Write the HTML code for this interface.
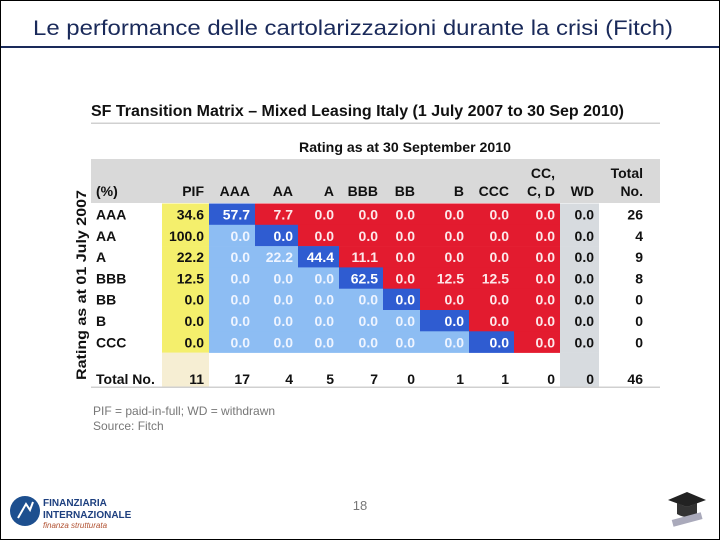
<!DOCTYPE html>
<html><head><meta charset="utf-8"><style>
html,body{margin:0;padding:0;background:#fff}
svg{display:block}
text{font-family:"Liberation Sans",Arial,sans-serif}
</style></head><body>
<svg id="s" width="720" height="540" viewBox="0 0 720 540" xmlns="http://www.w3.org/2000/svg">
<rect x="0.5" y="0.5" width="719" height="539" fill="#fff" stroke="#000"/>
<text x="33" y="35" font-size="21" fill="#1a2a5a" textLength="640" lengthAdjust="spacingAndGlyphs">Le performance delle cartolarizzazioni durante la crisi (Fitch)</text>
<rect x="1" y="46" width="718" height="2" fill="#1a2a5a"/>
<text x="91" y="116" font-size="16" font-weight="bold" fill="#111" textLength="533" lengthAdjust="spacingAndGlyphs">SF Transition Matrix – Mixed Leasing Italy (1 July 2007 to 30 Sep 2010)</text>
<rect x="91" y="122.5" width="569" height="1.5" fill="#d0d0d0"/>
<text x="405" y="152" font-size="14" font-weight="bold" fill="#111" text-anchor="middle" textLength="212" lengthAdjust="spacingAndGlyphs">Rating as at 30 September 2010</text>
<rect x="91" y="159" width="569" height="44" fill="#d9d9d9"/>
<text transform="translate(86,285) rotate(-90)" font-size="14" font-weight="bold" fill="#111" text-anchor="middle" textLength="190" lengthAdjust="spacingAndGlyphs">Rating as at 01 July 2007</text>
<text x="96" y="196" font-size="14" font-weight="bold" fill="#111">(%)</text>
<g id="grid"></g>
<rect x="91" y="386.5" width="569" height="1.5" fill="#d0d0d0"/>
<text x="93" y="415" font-size="12" fill="#777">PIF = paid-in-full; WD = withdrawn</text>
<text x="93" y="430" font-size="12" fill="#777">Source: Fitch</text>
<g>
<circle cx="25" cy="511" r="15" fill="#1d4f8f"/>
<path d="M18 518 L26 504 L30 510 L33 502" stroke="#fff" stroke-width="2" fill="none"/>
<text x="43" y="506" font-size="10" font-weight="bold" fill="#1d3f7f" font-family="Liberation Serif,serif">FINANZIARIA</text>
<text x="43" y="518" font-size="10" font-weight="bold" fill="#1d3f7f" font-family="Liberation Serif,serif">INTERNAZIONALE</text>
<text x="43" y="528" font-size="8" font-style="italic" fill="#b05030" font-family="Liberation Serif,serif">finanza strutturata</text>
</g>
<text x="360" y="510" font-size="13" fill="#777" text-anchor="middle">18</text>
<g>
<polygon points="668,500 687,492 706,500 687,507" fill="#222"/>
<path d="M677 503 L677 514 Q687 520 697 514 L697 503 L687 507Z" fill="#333"/>
<rect x="672" y="516" width="30" height="7" fill="#aab" transform="rotate(-15 687 519)"/>
</g>
</svg>
<script>
const colHeaders = ["PIF","AAA","AA","A","BBB","BB","B","CCC","CC, C, D","WD","Total No."];
const rowLabels = ["AAA","AA","A","BBB","BB","B","CCC"];
const pifValues = [34.6,100.0,22.2,12.5,0.0,0.0,0.0];
const matrixValues = [
 [57.7,7.7,0.0,0.0,0.0,0.0,0.0,0.0],
 [0.0,0.0,0.0,0.0,0.0,0.0,0.0,0.0],
 [0.0,22.2,44.4,11.1,0.0,0.0,0.0,0.0],
 [0.0,0.0,0.0,62.5,0.0,12.5,12.5,0.0],
 [0.0,0.0,0.0,0.0,0.0,0.0,0.0,0.0],
 [0.0,0.0,0.0,0.0,0.0,0.0,0.0,0.0],
 [0.0,0.0,0.0,0.0,0.0,0.0,0.0,0.0]
];
const wdValues = [0.0,0.0,0.0,0.0,0.0,0.0,0.0];
const rowTotals = [26,4,9,8,0,0,0];
const columnTotals = [11,17,4,5,7,0,1,1,0,0,46];

const NS="http://www.w3.org/2000/svg";
const g=document.getElementById('grid');
const colEdges=[162,209,255,298,339,383,420,469,514,560,599,660];
const rowTop=203.5, rowH=21.3;
function rowY(i){return rowTop+i*rowH;}
function mk(tag,attrs){const e=document.createElementNS(NS,tag);for(const k in attrs)e.setAttribute(k,attrs[k]);g.appendChild(e);return e;}
// headers
colHeaders.forEach((h,c)=>{
  const x=colEdges[c+1]-(c===10?17:5);
  const parts=h==="CC, C, D"?["CC,","C, D"]:h==="Total No."?["Total","No."]:[h];
  parts.forEach((p,k)=>{
    const t=mk('text',{x:x,y:parts.length===2?(k===0?178:196):196,'font-size':14,'font-weight':'bold',fill:'#111','text-anchor':'end'});
    t.textContent=p;
    
    
  });
});
function cell(c,r,fill,val,txtColor,name){
  const x0=colEdges[c],x1=colEdges[c+1],y0=rowY(r);
  if(fill){const re=mk('rect',{x:x0,y:y0,width:x1-x0,height:rowH+0.3,fill:fill});
    
    }
  const t=mk('text',{x:x1-(c===10?17:5),y:y0+16,'font-size':14,'font-weight':'bold',fill:txtColor,'text-anchor':'end'});
  t.textContent=val;
  
  
}
rowLabels.forEach((lab,r)=>{
  const t=mk('text',{x:96,y:rowY(r)+16,'font-size':14,'font-weight':'bold',fill:'#111'});
  t.textContent=lab;
  
  
  cell(0,r,'#f4ef6c',pifValues[r].toFixed(1),'#111','pif-cell');
  matrixValues[r].forEach((v,j)=>{
    let fill,tc;
    if(j<r){fill='#8dbdf3';tc='#eef4ff';}
    else if(j===r){fill='#2f5cd1';tc='#ffffff';}
    else {fill='#e31b2f';tc='#fde8ea';}
    cell(j+1,r,fill,v.toFixed(1),tc,'matrix-cell');
  });
  cell(9,r,'#d7dbdf',wdValues[r].toFixed(1),'#111','wd-cell');
  cell(10,r,null,String(rowTotals[r]),'#111','row-total');
});
// total row
const ty=rowY(7);
const tan=mk('rect',{x:colEdges[0],y:ty,width:colEdges[1]-colEdges[0],height:387-ty,fill:'#f6eed3'});


const wdg=mk('rect',{x:colEdges[9],y:ty,width:colEdges[10]-colEdges[9],height:387-ty,fill:'#d7dbdf'});


const tl=mk('text',{x:96,y:384,'font-size':14,'font-weight':'bold',fill:'#111'});
tl.textContent='Total No.';


columnTotals.forEach((v,c)=>{
  const t=mk('text',{x:colEdges[c+1]-(c===10?17:5),y:384,'font-size':14,'font-weight':'bold',fill:'#111','text-anchor':'end'});
  t.textContent=v;
  
  
});
</script>
</body></html>
